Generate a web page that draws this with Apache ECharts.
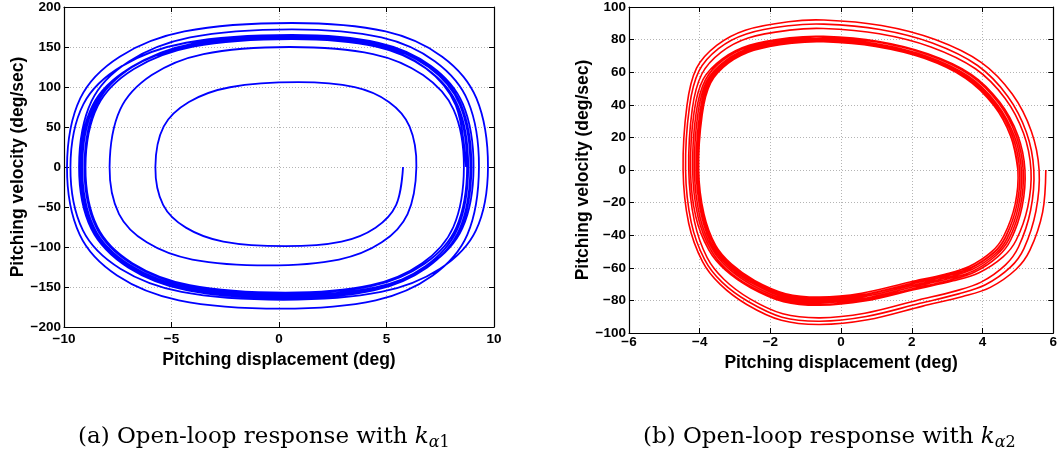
<!DOCTYPE html>
<html>
<head>
<meta charset="utf-8">
<title>Pitching phase portraits</title>
<script src="https://cdn.jsdelivr.net/npm/echarts@6/dist/echarts.min.js"></script>
<style>
  html, body { margin: 0; padding: 0; background: #ffffff; }
  #chart { width: 1060px; height: 456px; }
</style>
</head>
<body>
<div id="chart"></div>
<script>
// ---- Tick values --------------------------------------------------------
const ticksXA = [-10, -5, 0, 5, 10];
const ticksYA = [-200, -150, -100, -50, 0, 50, 100, 150, 200];
const ticksXB = [-6, -4, -2, 0, 2, 4, 6];
const ticksYB = [-100, -80, -60, -40, -20, 0, 20, 40, 60, 80, 100];

// ---- (a) trajectory with k_alpha1: [displacement (deg), velocity (deg/sec)] ----
const blueLoop1 = [
  [5.77, 0], [5.45, -47.3], [4.49, -75.8], [2.91, -93.2], [0.3, -99], [-2.59, -93.2], [-4.33, -75.8], [-5.39, -47.3], [-5.75, 0],
  [-5.36, 50.7], [-4.19, 81.2], [-2.28, 99.7], [0.9, 106], [3.52, 99.7], [5.11, 81.2], [6.07, 50.7], [6.39, 0]
];
const blueLoop2 = [
  [5.98, -58.8], [4.78, -94.2], [2.79, -115.7], [-0.5, -123], [-4.03, -115.7], [-6.15, -94.2], [-7.44, -58.8], [-7.88, 0],
  [-7.39, 71.7], [-5.92, 114.9], [-3.51, 141.2], [0.5, 150], [4.37, 141.2], [6.70, 114.9], [8.12, 71.7], [8.6, 0]
];
const blueLoop3 = [
  [8.11, -75.0], [6.66, -120.3], [4.27, -147.7], [0.3, -157], [-4.15, -147.7], [-6.82, -120.3], [-8.45, -75.0], [-9.0, 0],
  [-8.43, 76.5], [-6.75, 122.6], [-3.99, 150.6], [0.6, 160], [4.52, 150.6], [6.88, 122.6], [8.32, 76.5], [8.8, 0]
];
const blueLoop4 = [
  [8.30, -77.4], [6.81, -124.1], [4.36, -152.4], [0.3, -162], [-4.29, -152.4], [-7.05, -124.1], [-8.73, -77.4], [-9.3, 0],
  [-8.72, 82.2], [-6.98, 131.8], [-4.13, 161.9], [0.6, 172], [4.76, 161.9], [7.26, 131.8], [8.79, 82.2], [9.3, 0]
];
const blueLoop5 = [
  [8.76, -84.6], [7.15, -135.6], [4.50, -166.6], [0.1, -177], [-4.66, -166.6], [-7.53, -135.6], [-9.27, -84.6], [-9.86, 0],
  [-9.24, 86.0], [-7.41, 137.9], [-4.40, 169.4], [0.6, 180], [4.96, 169.4], [7.59, 137.9], [9.18, 86.0], [9.72, 0]
];
const blueLoop6 = [
  [9.16, -79.3], [7.49, -127.2], [4.75, -156.2], [0.2, -166], [-4.53, -156.2], [-7.38, -127.2], [-9.12, -79.3], [-9.7, 0],
  [-9.09, 78.9], [-7.29, 126.4], [-4.32, 155.3], [0.6, 165], [4.64, 155.3], [7.07, 126.4], [8.55, 78.9], [9.05, 0]
];
const blueLoop7 = [
  [8.53, -76.5], [7.00, -122.6], [4.48, -150.6], [0.3, -160], [-4.22, -150.6], [-6.94, -122.6], [-8.59, -76.5], [-9.15, 0],
  [-8.57, 77.9], [-6.87, 124.9], [-4.06, 153.4], [0.6, 163], [4.57, 153.4], [6.96, 124.9], [8.41, 77.9], [8.9, 0]
];
const blueLoop8 = [
  [8.39, -78.4], [6.89, -125.6], [4.41, -154.3], [0.3, -164], [-4.26, -154.3], [-7.02, -125.6], [-8.69, -78.4], [-9.25, 0],
  [-8.67, 77.0], [-6.95, 123.3], [-4.11, 151.5], [0.6, 161], [4.50, 151.5], [6.84, 123.3], [8.27, 77.0], [8.75, 0]
];
const blueLoop9 = [
  [8.25, -75.5], [6.77, -121.0], [4.34, -148.7], [0.3, -158], [-4.17, -148.7], [-6.86, -121.0], [-8.50, -75.5], [-9.05, 0],
  [-8.48, 78.4], [-6.79, 125.6], [-4.01, 154.3], [0.6, 164], [4.59, 154.3], [7.00, 125.6], [8.46, 78.4], [8.95, 0]
];
const blueLoop10 = [
  [8.44, -77.4], [6.93, -124.1], [4.43, -152.4], [0.3, -162], [-4.24, -152.4], [-6.98, -124.1], [-8.64, -77.4], [-9.2, 0],
  [-8.62, 77.4], [-6.91, 124.1], [-4.08, 152.4], [0.6, 162], [4.47, 152.4], [6.80, 124.1], [8.22, 77.4], [8.7, 0]
];

// ---- (b) trajectory with k_alpha2 ---------------------------------------
const redLoop1 = [
  [5.79, 0], [5.70, -25.8], [5.34, -49.2], [4.95, -60.9], [4.22, -72.0], [3.44, -77.6], [2.31, -83.5], [0.75, -91.9], [-0.6, -94.8],
  [-1.69, -92.2], [-2.67, -82.5], [-3.42, -70.2], [-3.92, -56.2], [-4.31, -32.8], [-4.47, 0],
  [-4.36, 39.7], [-4.09, 62.5], [-3.52, 76.5], [-2.71, 85.8], [-1.49, 91.0], [-0.49, 92], [1.14, 88.6], [2.66, 80.0],
  [3.97, 65.9], [4.84, 46.6], [5.38, 23.8], [5.6, 0]
];
const redLoop2 = [
  [5.51, -25.2], [5.17, -48.2], [4.79, -59.6], [4.08, -70.4], [3.32, -76.0], [2.23, -81.8], [0.71, -89.9], [-0.6, -92.8],
  [-1.67, -90.3], [-2.63, -80.7], [-3.37, -68.8], [-3.86, -55.0], [-4.24, -32.1], [-4.4, 0],
  [-4.29, 38.7], [-4.02, 60.8], [-3.47, 74.5], [-2.68, 83.5], [-1.48, 88.5], [-0.49, 89.5], [1.10, 86.2], [2.58, 77.9],
  [3.86, 64.1], [4.71, 45.3], [5.24, 23.2], [5.45, 0]
];
const redLoop3 = [
  [5.36, -24.7], [5.02, -47.1], [4.65, -58.2], [3.96, -68.8], [3.22, -74.3], [2.16, -79.9], [0.67, -87.9], [-0.6, -90.7],
  [-1.65, -88.2], [-2.59, -78.9], [-3.31, -67.2], [-3.79, -53.8], [-4.15, -31.4], [-4.31, 0],
  [-4.21, 37.5], [-3.94, 58.9], [-3.40, 72.2], [-2.63, 81.0], [-1.46, 85.8], [-0.50, 86.8], [1.08, 83.6], [2.54, 75.5],
  [3.80, 62.1], [4.64, 43.9], [5.16, 22.5], [5.37, 0]
];
const redLoop4 = [
  [5.28, -22.6], [4.95, -43.1], [4.58, -53.3], [3.90, -63.0], [3.17, -68.0], [2.12, -73.1], [0.66, -80.4], [-0.6, -83],
  [-1.63, -80.8], [-2.56, -72.2], [-3.27, -61.5], [-3.74, -49.2], [-4.11, -28.7], [-4.26, 0],
  [-4.16, 35.4], [-3.90, 55.7], [-3.36, 68.2], [-2.60, 76.5], [-1.45, 81.1], [-0.50, 82], [1.03, 79.0], [2.45, 71.3],
  [3.68, 58.7], [4.49, 41.5], [5.00, 21.2], [5.2, 0]
];
const redLoop5 = [
  [5.12, -22.4], [4.80, -42.8], [4.44, -53.0], [3.78, -62.6], [3.06, -67.6], [2.05, -72.7], [0.62, -79.9], [-0.6, -82.5],
  [-1.61, -80.3], [-2.53, -71.8], [-3.23, -61.1], [-3.69, -48.9], [-4.05, -28.5], [-4.2, 0],
  [-4.10, 35.2], [-3.84, 55.3], [-3.32, 67.8], [-2.57, 76.0], [-1.43, 80.6], [-0.50, 81.5], [1.01, 78.5], [2.43, 70.9],
  [3.64, 58.4], [4.45, 41.2], [4.95, 21.1], [5.15, 0]
];
const redLoop6 = [
  [5.07, -22.2], [4.75, -42.3], [4.39, -52.3], [3.74, -61.9], [3.03, -66.7], [2.02, -71.8], [0.61, -79.0], [-0.6, -81.5],
  [-1.6, -79.3], [-2.5, -70.9], [-3.19, -60.4], [-3.65, -48.3], [-4.0, -28.2], [-4.15, 0],
  [-4.05, 34.8], [-3.8, 54.7], [-3.28, 67.0], [-2.54, 75.1], [-1.42, 79.6], [-0.5, 80.5], [1.0, 77.5], [2.4, 70.0],
  [3.6, 57.6], [4.4, 40.7], [4.9, 20.8], [5.1, 0]
];
const redLoop7 = [
  [5.02, -21.9], [4.7, -41.8], [4.35, -51.7], [3.70, -61.1], [3.0, -65.9], [2.0, -70.9], [0.6, -78.0], [-0.6, -80.5],
  [-1.59, -78.3], [-2.47, -70.0], [-3.15, -59.7], [-3.61, -47.7], [-3.95, -27.9], [-4.1, 0],
  [-4.00, 34.6], [-3.76, 54.3], [-3.24, 66.6], [-2.51, 74.6], [-1.41, 79.1], [-0.5, 80], [0.99, 77.0], [2.37, 69.6],
  [3.56, 57.3], [4.36, 40.5], [4.85, 20.7], [5.05, 0]
];
const redLoop8 = [
  [4.97, -21.6], [4.65, -41.3], [4.31, -51.0], [3.66, -60.3], [2.97, -65.1], [1.98, -70.0], [0.59, -77.0], [-0.6, -79.5],
  [-1.58, -77.4], [-2.45, -69.2], [-3.13, -58.9], [-3.57, -47.1], [-3.92, -27.5], [-4.06, 0],
  [-3.96, 34.3], [-3.72, 54.0], [-3.21, 66.1], [-2.49, 74.2], [-1.40, 78.6], [-0.5, 79.5], [0.99, 76.6], [2.37, 69.2],
  [3.56, 56.9], [4.36, 40.2], [4.85, 20.6], [5.05, 0]
];
const redLoop9 = [
  [4.97, -21.5], [4.65, -41.0], [4.31, -50.7], [3.66, -60.0], [2.97, -64.7], [1.98, -69.6], [0.59, -76.6], [-0.6, -79],
  [-1.57, -76.9], [-2.45, -68.7], [-3.12, -58.5], [-3.56, -46.8], [-3.90, -27.3], [-4.05, 0],
  [-3.95, 34.1], [-3.71, 53.6], [-3.20, 65.7], [-2.49, 73.7], [-1.40, 78.1], [-0.5, 79], [0.97, 76.1], [2.35, 68.7],
  [3.52, 56.6], [4.31, 40.0], [4.80, 20.5], [5.0, 0]
];
const redLoop10 = [
  [4.92, -21.2], [4.60, -40.5], [4.26, -50.1], [3.62, -59.2], [2.94, -63.9], [1.95, -68.7], [0.58, -75.6], [-0.6, -78],
  [-1.57, -75.9], [-2.44, -67.9], [-3.10, -57.8], [-3.55, -46.3], [-3.88, -27.0], [-4.03, 0],
  [-3.93, 34.0], [-3.69, 53.4], [-3.19, 65.5], [-2.47, 73.4], [-1.39, 77.8], [-0.5, 78.7], [0.97, 75.8], [2.35, 68.5],
  [3.52, 56.3], [4.31, 39.8], [4.80, 20.4], [5.0, 0]
];

const blueTrajectory = [].concat(blueLoop1, blueLoop2, blueLoop3, blueLoop4, blueLoop5,
  blueLoop6, blueLoop7, blueLoop8, blueLoop9, blueLoop10);
const redTrajectory = [].concat(redLoop1, redLoop2, redLoop3, redLoop4, redLoop5,
  redLoop6, redLoop7, redLoop8, redLoop9, redLoop10);

// ---- Styling helpers -----------------------------------------------------
const SANS = '"Liberation Sans", Arial, Helvetica, sans-serif';
const SERIF = '"DejaVu Serif", "Liberation Serif", serif';
const minus = v => String(v).replace('-', '\u2212');

function mainAxis(ticks, gridIndex, position, name, nameGap, labelMargin) {
  return {
    type: 'value', gridIndex, position,
    min: ticks[0], max: ticks[ticks.length - 1], interval: ticks[1] - ticks[0],
    name, nameLocation: 'middle', nameGap,
    nameTextStyle: { fontFamily: SANS, fontWeight: 'bold', fontSize: 17.5, color: '#000' },
    axisLine: { show: true, onZero: false, lineStyle: { color: '#000', width: 1.2 } },
    axisTick: { show: true, inside: true, length: 5, lineStyle: { color: '#000', width: 1 } },
    axisLabel: { show: true, fontFamily: SANS, fontWeight: 'bold', fontSize: 13.5, color: '#000',
                 margin: labelMargin, formatter: minus, hideOverlap: false },
    splitLine: { show: true, lineStyle: { color: '#b4b4b4', type: [1, 2], width: 1 } }
  };
}
function boxAxis(ticks, gridIndex, position) {
  return {
    type: 'value', gridIndex, position,
    min: ticks[0], max: ticks[ticks.length - 1], interval: ticks[1] - ticks[0],
    axisLine: { show: true, onZero: false, lineStyle: { color: '#000', width: 1.2 } },
    axisTick: { show: true, inside: true, length: 5, lineStyle: { color: '#000', width: 1 } },
    axisLabel: { show: false },
    splitLine: { show: false }
  };
}

// The whole trajectory is one smooth path; each sample is placed with the axes' own coord().
function trajectorySeries(points, axisIndex, color, width) {
  return {
    type: 'custom', coordinateSystem: 'cartesian2d',
    xAxisIndex: axisIndex, yAxisIndex: axisIndex,
    data: points, encode: { x: 0, y: 1 }, silent: true, clip: true,
    renderItem(params, api) {
      if (params.dataIndex !== 0) return null;
      const pts = points.map(p => api.coord(p));
      return {
        type: 'polyline',
        shape: { points: pts, smooth: 0.35 },
        style: { stroke: color, lineWidth: width, fill: null, lineJoin: 'round' }
      };
    }
  };
}

function caption(prefix, index, leftX) {
  return {
    text: prefix + ' Open-loop response with {k|k}{a|\u03b1}{n|' + index + '}',
    left: leftX, top: 423, padding: 0,
    textStyle: {
      fontFamily: SERIF, fontWeight: 'normal', fontSize: 23, color: '#000', lineHeight: 28,
      rich: {
        k: { fontFamily: SERIF, fontStyle: 'italic', fontSize: 23, lineHeight: 28, color: '#000' },
        a: { fontFamily: SERIF, fontStyle: 'italic', fontSize: 16, lineHeight: 16, verticalAlign: 'bottom', color: '#000' },
        n: { fontFamily: SERIF, fontSize: 16, lineHeight: 16, verticalAlign: 'bottom', color: '#000' }
      }
    }
  };
}

const chart = echarts.init(document.getElementById('chart'), null, { renderer: 'canvas' });
chart.setOption({
  animation: false,
  backgroundColor: '#ffffff',
  title: [caption('(a)', 1, 78), caption('(b)', 2, 643)],
  grid: [
    { left: 64, top: 7, width: 430, height: 320, containLabel: false },
    { left: 629, top: 7, width: 430, height: 326, containLabel: false }
  ],
  xAxis: [
    mainAxis(ticksXA, 0, 'bottom', 'Pitching displacement (deg)', 18, 5),
    boxAxis(ticksXA, 0, 'top'),
    mainAxis(ticksXB, 1, 'bottom', 'Pitching displacement (deg)', 15, 2),
    boxAxis(ticksXB, 1, 'top')
  ],
  yAxis: [
    mainAxis(ticksYA, 0, 'left', 'Pitching velocity (deg/sec)', 36, 3),
    boxAxis(ticksYA, 0, 'right'),
    mainAxis(ticksYB, 1, 'left', 'Pitching velocity (deg/sec)', 36, 3),
    boxAxis(ticksYB, 1, 'right')
  ],
  series: [
    trajectorySeries(blueTrajectory, 0, '#0000ff', 1.8),
    trajectorySeries(redTrajectory, 2, '#ff0000', 1.6)
  ]
});
</script>
</body>
</html>
